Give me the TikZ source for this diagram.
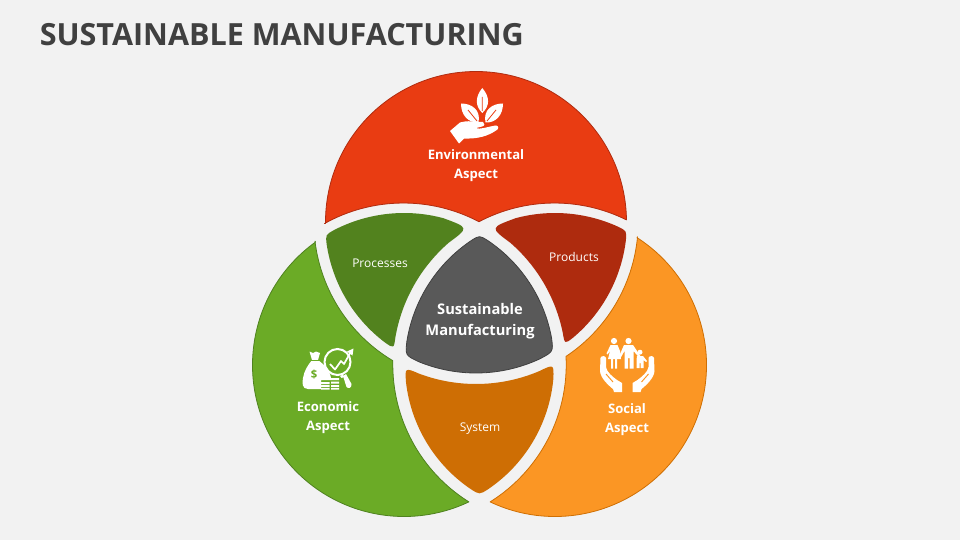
\documentclass[tikz,border=0pt]{standalone}
\usepackage{fontspec}
\setmainfont{Open Sans}
\usetikzlibrary{calc}
\definecolor{bg}{HTML}{F2F2F2}
\definecolor{redF}{HTML}{E93C12}\definecolor{redE}{HTML}{B02C10}
\definecolor{greenF}{HTML}{6BAB26}\definecolor{greenE}{HTML}{4F8220}
\definecolor{orangeF}{HTML}{FB9624}\definecolor{orangeE}{HTML}{CF6F03}
\definecolor{dgreen}{HTML}{52821E}\definecolor{dred}{HTML}{AE2B0E}
\definecolor{dorange}{HTML}{CE6E04}\definecolor{grayF}{HTML}{595959}\definecolor{grayE}{HTML}{404040}
\tikzset{
 lobe/.style={line width=.6pt,line join=round},
 big/.style={text=white,font=\fontsize{9.8}{14.6}\selectfont\bfseries,align=center},
 small/.style={text=white,font=\fontsize{9}{11}\selectfont},
 ico/.style={fill=white,draw=none}
}
\begin{document}
\begin{tikzpicture}[x=.75pt,y=.75pt]
\fill[bg] (0,0) rectangle (960,540);
\useasboundingbox (0,0) rectangle (960,540);
\coordinate (T) at (476,318);
\coordinate (L) at (404,175);
\coordinate (R) at (555,175);
\node[anchor=west,text=grayE,font=\fontsize{22.9}{28}\selectfont\bfseries,inner sep=0] (title) at (39.5,505.5) {SUSTAINABLE MANUFACTURING};
% outer lobes
\draw[lobe,fill=redF,draw=redE] ($(T)+(180.6:150.5)$) arc[start angle=180.6,end angle=0.8,radius=150.5]
  arc[start angle=63.62,end angle=117.8,radius=162]
  arc[start angle=62.2,end angle=119.17,radius=162] -- cycle;
\draw[lobe,fill=greenF,draw=greenE] ($(L)+(125.74:151.5)$) arc[start angle=125.74,end angle=295.36,radius=151.5]
  arc[start angle=237.98,end angle=178.64,radius=162]
  arc[start angle=239.2,end angle=186.95,radius=162] -- cycle;
\draw[lobe,fill=orangeF,draw=orangeE] ($(R)+(57.23:151.5)$) arc[start angle=57.23,end angle=-115.36,radius=151.5]
  arc[start angle=-57.98,end angle=2.88,radius=162]
  arc[start angle=-56.35,end angle=-5.38,radius=162] -- cycle;
% processes
\coordinate (pA) at ($(L)+(121.07:152)$);
\coordinate (pB) at ($(L)+(64.64:152)$);
\coordinate (pC) at ($(R)+(174.22:162)$);
\fill[dgreen] ($(L)+(117.5:152)$) arc[start angle=117.5,end angle=75,radius=152]
  .. controls (pB) .. ($(R)+(131:162)$) arc[start angle=131,end angle=170,radius=162]
  .. controls (pC) .. ($(T)+(233:151)$) arc[start angle=233,end angle=188.5,radius=151]
  .. controls (pA) .. cycle;
% products
\coordinate (qA) at ($(R)+(115.36:152)$);
\coordinate (qB) at ($(R)+(61.85:152)$);
\coordinate (qC) at ($(L)+(7.37:162)$);
\fill[dred] ($(R)+(105:152)$) arc[start angle=105,end angle=65.5,radius=152]
  .. controls (qB) .. ($(T)+(-7:151)$) arc[start angle=-7,end angle=-50,radius=151]
  .. controls (qC) .. ($(L)+(11.5:162)$) arc[start angle=11.5,end angle=49,radius=162]
  .. controls (qA) .. cycle;
% centre
\coordinate (cA) at ($(L)+(59.8:150)$);
\coordinate (cB) at ($(T)+(300.83:151)$);
\coordinate (cC) at ($(R)+(176.34:150)$);
\draw[lobe,fill=grayF,draw=grayE] ($(L)+(56:150)$) arc[start angle=56,end angle=10.5,radius=150]
  .. controls (cB) .. ($(T)+(295:151)$) arc[start angle=295,end angle=248,radius=151]
  .. controls (cC) .. ($(R)+(171:150)$) arc[start angle=171,end angle=124,radius=150]
  .. controls (cA) .. cycle;
% system
\coordinate (sA) at ($(T)+(244:162)$);
\coordinate (sB) at ($(L)+(.38:150)$);
\coordinate (sC) at ($(R)+(239.8:150)$);
\fill[dorange] ($(T)+(249.5:162)$) arc[start angle=249.5,end angle=293,radius=162]
  .. controls (sB) .. ($(L)+(-5.5:150)$) arc[start angle=-5.5,end angle=-56,radius=150]
  .. controls (sC) .. ($(R)+(236:150)$) arc[start angle=236,end angle=186.5,radius=150]
  .. controls (sA) .. cycle;
% labels
\node[big] (envL) at (476,374.5) {Environmental\\Aspect};
\node[big] (ecoL) at (328,122.5) {Economic\\Aspect};
\node[big] (socL) at (627,120.5) {Social\\Aspect};
\node[big,font=\fontsize{11}{16}\selectfont\bfseries] (cenL) at (480,218.5) {Sustainable\\Manufacturing};
\node[small] (procL) at (380,276.5) {Processes};
\node[small] (prodL) at (574,283.5) {Products};
\node[small] (sysL) at (480,111.5) {System};
% icons, drawn in pixel coordinates with y downwards
\begin{scope}[shift={(0,540)},yscale=-1]
 % leaves
 \fill[ico] (482.3,88) .. controls (475,97) and (475,106) .. (482.3,113) .. controls (490,106) and (490,97) .. (482.3,88) -- cycle;
 \fill[ico] (461,103.5) .. controls (461,115) and (468,123) .. (478.5,122.5) .. controls (481,110) and (472,103.5) .. (461,103.5) -- cycle;
 \fill[ico] (503,103.5) .. controls (503,115) and (496,123) .. (485.5,122.5) .. controls (483,110) and (492,103.5) .. (503,103.5) -- cycle;
 \draw[redF,line width=.6pt] (482.3,97) -- (482.3,111) (468,110) -- (477,121) (496,110) -- (487,121);
 % hand
 \fill[ico] (450,131) -- (460,122.5) .. controls (467,120) and (475,122) .. (483,122) .. controls (485,123) and (485,126) .. (482,126.5) -- (476,128) .. controls (480,130) and (490,126) .. (496,125.5) .. controls (499,126) and (499,129) .. (496,130.5) .. controls (488,136) and (478,139) .. (464,138.5) -- (459,143.5) -- cycle;
 % money bag
 \fill[ico] (309.5,351.5) -- (313,353) -- (316,351.5) -- (320,353) -- (318,360) .. controls (326,366) and (331,372) .. (331,380) -- (321,380) -- (321,389) -- (308,389) .. controls (302,389) and (302,383) .. (303,378) .. controls (304,371) and (308,365) .. (312,360) -- cycle;
 \node[text=greenF,font=\fontsize{8.5}{9}\selectfont\bfseries,inner sep=0] (dollar) at (314,374.5) {\$};
 \fill[greenF] (311,359.5) rectangle (320,361);
 % coins
 \fill[ico] (321,382) rectangle (329.5,384) (321,385) rectangle (329.5,387) (321,388) rectangle (329.5,389.5);
 \fill[ico] (331,378) rectangle (339,380) (331,381.5) rectangle (339,383.5) (331,385) rectangle (339,387) (331,388) rectangle (339,389.5);
 % magnifier
 \draw[white,line width=1.5pt] (337.5,362) circle[radius=13];
 \fill[ico] (343,376) -- (346,374) -- (351.5,384) .. controls (352,388) and (348,389) .. (346.5,387) -- cycle;
 \fill[ico] (340,376) -- (343,374.5) -- (344,377) -- (341.5,378) -- cycle;
 \draw[white,line width=1.3pt,line join=round] (330,364) -- (335,369.5) -- (341,361) -- (344,364) -- (351,351.5);
 \fill[ico] (353.5,348.5) -- (352.5,355.5) -- (347,351.5) -- cycle;
 % family
 \fill[ico] (614,341) circle[radius=3.1] (628.5,341) circle[radius=3.1] (640,352.2) circle[radius=2.5];
 \fill[ico] (610.5,345) -- (617.5,345) -- (620,351) -- (621,359) -- (608,359) -- (610,351) -- (607.5,354.5) -- (606.5,353.5) -- cycle;
 \fill[ico] (611,359) rectangle (613,368.5) (615,359) rectangle (617,368.5);
 \fill[ico] (624,345) -- (633,345) -- (641,357) -- (639.5,358) -- (633.5,351) -- (633.5,368.5) -- (629.5,368.5) -- (629.5,358) -- (628,358) -- (628,368.5) -- (624.5,368.5) -- (624.5,351) -- (620,359) -- (618.5,357.5) -- cycle;
 \fill[ico] (637,356) -- (643,356) -- (647,361) -- (646,362) -- (643.5,360) -- (643.5,368) -- (640.5,368) -- (640.5,363) -- (639.5,363) -- (639.5,368) -- (636.5,368) -- (636.5,360) -- cycle;
 % caring hands
 \fill[ico] (600.5,358) .. controls (600.5,355.5) and (606,355.5) .. (606,358) -- (606,367) .. controls (606.5,372) and (613,377) .. (617,380) -- (622,383) -- (622,392) -- (614,392) -- (613,389) .. controls (608,385) and (600.5,378) .. (600,371) -- cycle;
 \fill[ico] (654,358) .. controls (654,355.5) and (648.5,355.5) .. (648.5,358) -- (648.5,367) .. controls (648,372) and (641.5,377) .. (637.5,380) -- (632.5,383) -- (632.5,392) -- (640.5,392) -- (641.5,389) .. controls (646.5,385) and (654,378) .. (654.5,371) -- cycle;
 \draw[orangeF,line width=.7pt] (606,374) -- (613,382) (648.5,374) -- (641.5,382);
\end{scope}
\end{tikzpicture}
\end{document}
